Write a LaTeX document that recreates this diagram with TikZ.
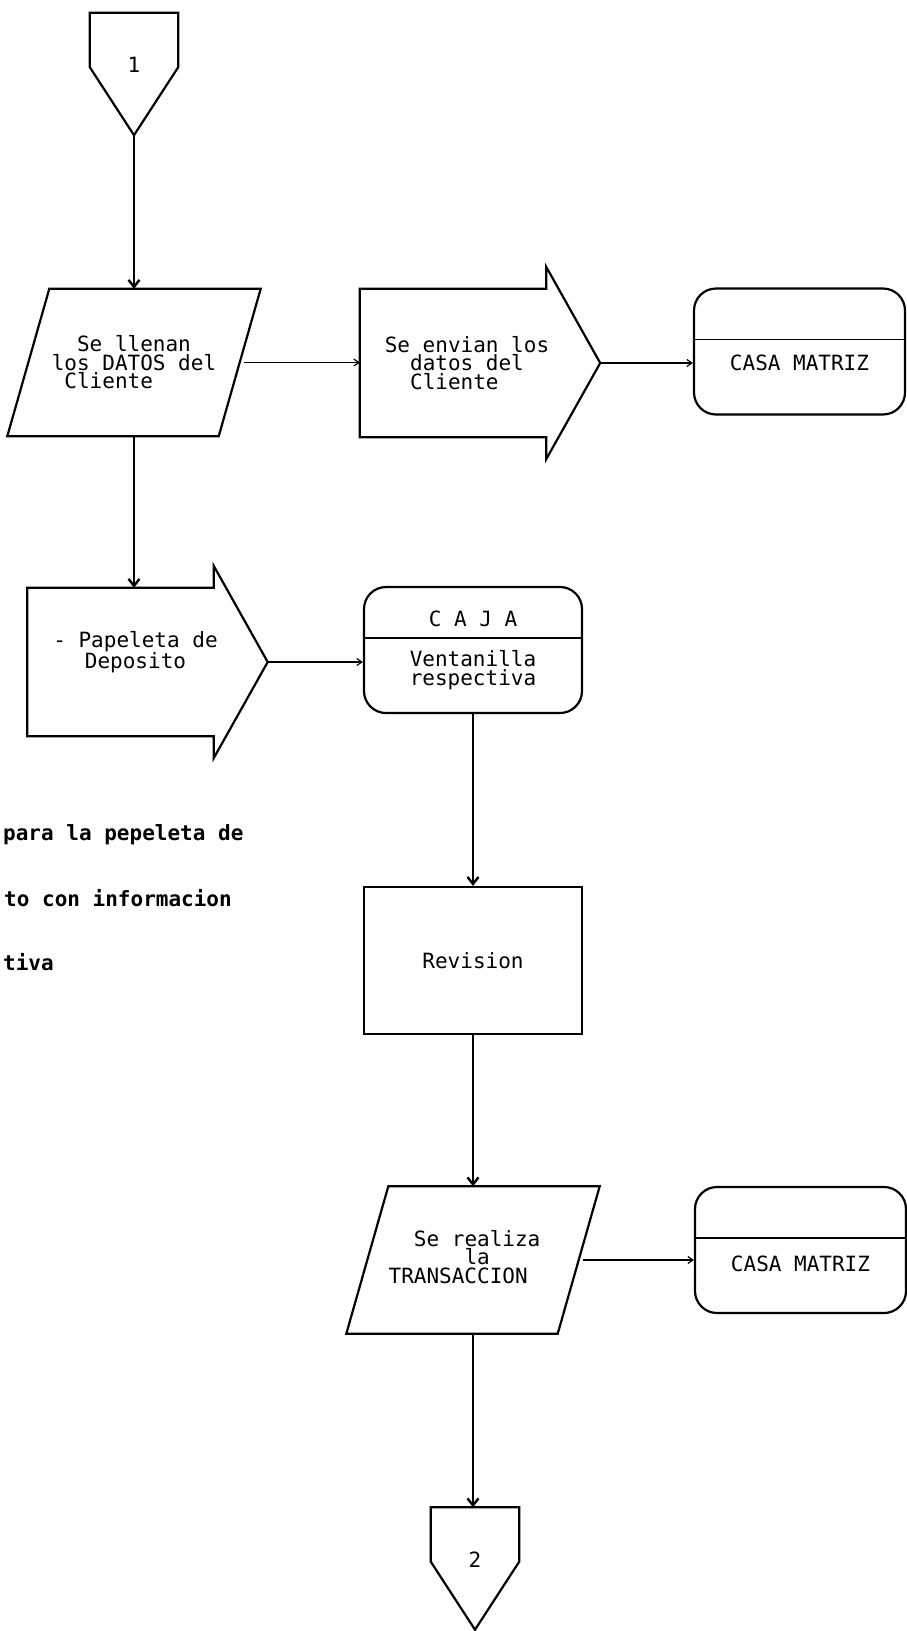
\documentclass[tikz,border=0pt]{standalone}
\usepackage{fontspec}
\setmonofont{DejaVu Sans Mono}
\usetikzlibrary{arrows.meta}

\newcommand\boxfont{\fontsize{21}{18.5}\selectfont\ttfamily}

\tikzset{
  outline/.style={line width=2.2pt},
  flow/.style={line width=2.4pt, -{Straight Barb[length=7pt,width=11pt]}},
  feed/.style={line width=1.2pt, -{Straight Barb[length=5pt,width=7pt]}},
  every label/.style={font=\boxfont, align=center, inner sep=0pt},
  offpage/.style={minimum width=88pt, minimum height=122pt, inner sep=0pt,
    append after command={\pgfextra{\draw[outline] (\tikzlastnode.north west) -- (\tikzlastnode.north east)
      -- ([yshift=68pt]\tikzlastnode.south east) -- (\tikzlastnode.south)
      -- ([yshift=68pt]\tikzlastnode.south west) -- cycle;}}},
  inout/.style={minimum width=211pt, minimum height=147pt, inner sep=0pt, align=left, font=\boxfont,
    append after command={\pgfextra{\draw[outline] ([xshift=21pt]\tikzlastnode.north west) -- ([xshift=21pt]\tikzlastnode.north east)
      -- ([xshift=-21pt]\tikzlastnode.south east) -- ([xshift=-21pt]\tikzlastnode.south west) -- cycle;}}},
  sendto/.style={minimum width=186pt, minimum height=148pt, inner sep=0pt,
    append after command={\pgfextra{\draw[outline] (\tikzlastnode.south west) -- (\tikzlastnode.north west) -- (\tikzlastnode.north east)
      -- ([yshift=22pt]\tikzlastnode.north east) -- ([xshift=54pt]\tikzlastnode.east)
      -- ([yshift=-22pt]\tikzlastnode.south east) -- (\tikzlastnode.south east) -- cycle;}}},
  store/.style={draw, line width=2.2pt, rounded corners=22pt, minimum height=126pt, inner sep=0pt,
    path picture={\draw[line width=1.6pt] ([yshift=-51pt]path picture bounding box.north west)
      -- ([yshift=-51pt]path picture bounding box.north east);}},
  process/.style={draw, line width=2.2pt, minimum width=218pt, minimum height=147pt, font=\boxfont},
  note/.style={font=\boxfont\bfseries, anchor=west, inner sep=0pt}
}

\begin{document}
\begin{tikzpicture}[x=1pt, y=-1pt]
  \useasboundingbox (0,0) rectangle (907,1631);

  % left column
  \node[offpage, label={[yshift=9pt]center:1}] (con1) at (134,74) {};
  \node[inout] (datos) at (134,362.5) {\phantom{xx}Se llenan\\los DATOS del\\\phantom{x}Cliente};
  \node[sendto, label={[xshift=15pt, yshift=10pt]center:{- Papeleta de\\Deposito}}] (papeleta) at (120.5,662) {};
  \coordinate (papeletaTip) at ([xshift=54pt]papeleta.east);

  % sending to the main office
  \node[sendto, label={[xshift=14pt, align=left]center:{Se envian los\\\phantom{xx}datos del\\\phantom{xx}Cliente}}] (envio) at (453,363) {};
  \coordinate (envioTip) at ([xshift=54pt]envio.east);
  \node[store, minimum width=211pt, label={[yshift=-11pt]center:CASA MATRIZ}] (matriz1) at (799.5,351.5) {};

  % cash desk
  \node[store, minimum width=218pt, label={[yshift=31pt]center:C A J A},
    label={[yshift=-20pt]center:{Ventanilla\\respectiva}}] (caja) at (473,650) {};
  \node[process] (revision) at (473,960.5) {Revision};
  \node[inout, label={[xshift=-8.5pt, yshift=3pt, align=left]center:{\phantom{xx}Se realiza\\\phantom{xxxxxx}la\\TRANSACCION}}] (trans) at (473,1260) {};
  \node[store, minimum width=211pt, label={[yshift=-14pt]center:CASA MATRIZ}] (matriz2) at (800.5,1250) {};
  \node[offpage, label={[yshift=8.5pt]center:2}] (con2) at (475,1568.5) {};

  % notes cut at the page edge
  \node[note] (nota1) at (3,835) {para la pepeleta de};
  \node[note] (nota2) at (4,898) {to con informacion};
  \node[note] (nota3) at (3,962) {tiva};

  \draw[flow] (con1) -- (datos);
  \draw[flow] (datos.south) -- (datos.south |- papeleta.north);
  \draw[feed, shorten <=4pt] (datos.east) -- (datos.east -| envio.west);
  \draw[feed] (envioTip) -- (envioTip -| matriz1.west);
  \draw[feed] (papeletaTip) -- (papeletaTip -| caja.west);
  \draw[flow] (caja) -- (revision);
  \draw[flow] (revision) -- (trans);
  \draw[feed, shorten <=4pt] (trans.east) -- (trans.east -| matriz2.west);
  \draw[flow] (trans.south) -- (trans.south |- con2.north);
\end{tikzpicture}
\end{document}
